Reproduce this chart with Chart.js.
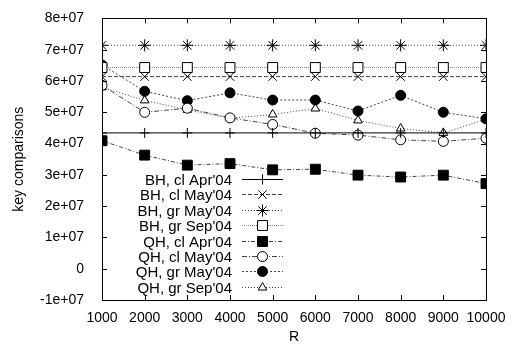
<!DOCTYPE html>
<html>
<head>
<meta charset="utf-8">
<script src="https://cdn.jsdelivr.net/npm/chart.js@4.4.0/dist/chart.umd.min.js"></script>
<style>
  html, body { margin: 0; padding: 0; background: #fff; }
  #wrap { width: 513px; height: 348px; }
</style>
</head>
<body>
<div id="wrap"><canvas id="keyChart"></canvas></div>
<script>
// values
const rValues = [1000, 2000, 3000, 4000, 5000, 6000, 7000, 8000, 9000, 10000];
const seriesLabels = ["BH, cl Apr'04", "BH, cl May'04", "BH, gr May'04", "BH, gr Sep'04",
                      "QH, cl Apr'04", "QH, cl May'04", "QH, gr May'04", "QH, gr Sep'04"];
const bhClApr = [4.34e7, 4.34e7, 4.34e7, 4.34e7, 4.34e7, 4.34e7, 4.34e7, 4.34e7, 4.34e7, 4.34e7];
const bhClMay = [6.14e7, 6.14e7, 6.14e7, 6.14e7, 6.14e7, 6.14e7, 6.14e7, 6.14e7, 6.14e7, 6.14e7];
const bhGrMay = [7.14e7, 7.14e7, 7.14e7, 7.14e7, 7.14e7, 7.14e7, 7.14e7, 7.14e7, 7.14e7, 7.14e7];
const bhGrSep = [6.43e7, 6.43e7, 6.43e7, 6.43e7, 6.43e7, 6.43e7, 6.43e7, 6.43e7, 6.43e7, 6.43e7];
const qhClApr = [4.09e7, 3.63e7, 3.31e7, 3.36e7, 3.16e7, 3.18e7, 2.99e7, 2.93e7, 2.99e7, 2.72e7];
const qhClMay = [5.86e7, 5.00e7, 5.13e7, 4.82e7, 4.61e7, 4.33e7, 4.27e7, 4.12e7, 4.07e7, 4.17e7];
const qhGrMay = [6.51e7, 5.67e7, 5.37e7, 5.62e7, 5.39e7, 5.39e7, 5.04e7, 5.54e7, 5.00e7, 4.79e7];
const qhGrSep = [5.80e7, 5.38e7, 5.08e7, 4.81e7, 4.93e7, 5.12e7, 4.74e7, 4.48e7, 4.34e7, 4.78e7];
const yMin = -1e7, yMax = 8e7, yStep = 1e7;
const xMin = 1000, xMax = 10000, xStep = 1000;

const FONT = 'Liberation Sans, Arial, Helvetica, sans-serif';

function makeSet(label, values, style, radius, fill, dash, lineColor) {
    return {
        label: label,
        data: rValues.map((r, i) => ({ x: r, y: values[i] })),
        borderColor: lineColor,
        borderWidth: 1,
        borderDash: dash,
        pointStyle: style,
        pointRadius: radius,
        pointHoverRadius: radius,
        pointBorderColor: '#000',
        pointBorderWidth: 1,
        pointBackgroundColor: fill,
        fill: false,
        tension: 0
    };
}

function expLabel(v) {
    if (v === 0) return '0';
    return Number(v).toExponential().replace(/e([+-])(\d)$/, 'e$10$2');
}

// inward tick marks on all four sides plus the frame
const framePlugin = {
    id: 'frame',
    afterDatasetsDraw(chart) {
        const ctx = chart.ctx;
        const a = chart.chartArea;
        const xs = chart.scales.x, ys = chart.scales.y;
        const len = 5;
        ctx.save();
        ctx.strokeStyle = '#000';
        ctx.lineWidth = 1;
        ctx.beginPath();
        xs.ticks.forEach(t => {
            const px = Math.round(xs.getPixelForValue(t.value)) + 0.5;
            ctx.moveTo(px, a.bottom); ctx.lineTo(px, a.bottom - len);
            ctx.moveTo(px, a.top); ctx.lineTo(px, a.top + len);
        });
        ys.ticks.forEach(t => {
            const py = Math.round(ys.getPixelForValue(t.value)) + 0.5;
            ctx.moveTo(a.left, py); ctx.lineTo(a.left + len, py);
            ctx.moveTo(a.right, py); ctx.lineTo(a.right - len, py);
        });
        ctx.stroke();
        ctx.strokeRect(Math.round(a.left) + 0.5, Math.round(a.top) + 0.5,
                       Math.round(a.right - a.left), Math.round(a.bottom - a.top));
        ctx.restore();
    }
};

// gnuplot style key: right aligned text, then line sample with marker
const keyPlugin = {
    id: 'gnukey',
    afterDraw(chart) {
        const ctx = chart.ctx;
        const textRight = 232, lineL = 242, lineR = 283, top = 179, gap = 15.4;
        ctx.save();
        ctx.font = '15px ' + FONT;
        ctx.textAlign = 'right';
        ctx.textBaseline = 'middle';
        chart.data.datasets.forEach((ds, i) => {
            const y = Math.round(top + i * gap) + 0.5;
            ctx.fillStyle = '#000';
            ctx.fillText(ds.label, textRight, y + 1);
            ctx.strokeStyle = ds.borderColor;
            ctx.lineWidth = 1;
            ctx.setLineDash(ds.borderDash || []);
            ctx.beginPath();
            ctx.moveTo(lineL, y); ctx.lineTo(lineR, y);
            ctx.stroke();
            ctx.setLineDash([]);
            ctx.strokeStyle = '#000';
            ctx.fillStyle = ds.pointBackgroundColor;
            Chart.helpers.drawPoint(ctx, {
                pointStyle: ds.pointStyle, radius: ds.pointRadius, rotation: 0, borderWidth: 1
            }, (lineL + lineR) / 2, y);
        });
        ctx.restore();
    }
};

const ctx = document.getElementById('keyChart').getContext('2d');
new Chart(ctx, {
    type: 'line',
    data: {
        datasets: [
            makeSet(seriesLabels[0], bhClApr, 'cross', 5, '#000', [], '#000'),
            makeSet(seriesLabels[1], bhClMay, 'crossRot', 6, '#000', [4, 2], '#444'),
            makeSet(seriesLabels[2], bhGrMay, 'star', 6, '#000', [1, 2], '#444'),
            makeSet(seriesLabels[3], bhGrSep, 'rect', 7, '#fff', [1, 1], '#888'),
            makeSet(seriesLabels[4], qhClApr, 'rect', 7, '#000', [4, 2, 1, 2], '#444'),
            makeSet(seriesLabels[5], qhClMay, 'circle', 5, '#fff', [5, 2, 1, 2], '#444'),
            makeSet(seriesLabels[6], qhGrMay, 'circle', 5, '#000', [2, 2], '#444'),
            makeSet(seriesLabels[7], qhGrSep, 'triangle', 5, '#fff', [1, 2], '#444')
        ]
    },
    options: {
        responsive: true,
        maintainAspectRatio: false,
        animation: false,
        layout: { padding: { top: 10, right: 27, left: 0, bottom: 0 } },
        scales: {
            x: {
                type: 'linear',
                min: xMin, max: xMax,
                grid: { display: false },
                border: { display: false },
                ticks: {
                    stepSize: xStep, padding: 2, color: '#000', maxRotation: 0,
                    font: { family: FONT, size: 14 },
                    callback: v => String(v)
                },
                title: {
                    display: true, text: 'R', color: '#000', padding: { top: 0, bottom: 2 },
                    font: { family: FONT, size: 14 }
                },
                afterFit(scale) { scale.height = 48; }
            },
            y: {
                min: yMin, max: yMax,
                grid: { display: false },
                border: { display: false },
                ticks: {
                    stepSize: yStep, padding: 10, color: '#000',
                    font: { family: FONT, size: 14 },
                    callback: v => expLabel(v)
                },
                title: {
                    display: true, text: 'key comparisons', color: '#000',
                    padding: { top: 11, bottom: 0 },
                    font: { family: FONT, size: 14 }
                },
                afterFit(scale) { scale.width = 102; }
            }
        },
        plugins: {
            legend: { display: false },
            tooltip: { enabled: false }
        }
    },
    plugins: [framePlugin, keyPlugin]
});
</script>
</body>
</html>
